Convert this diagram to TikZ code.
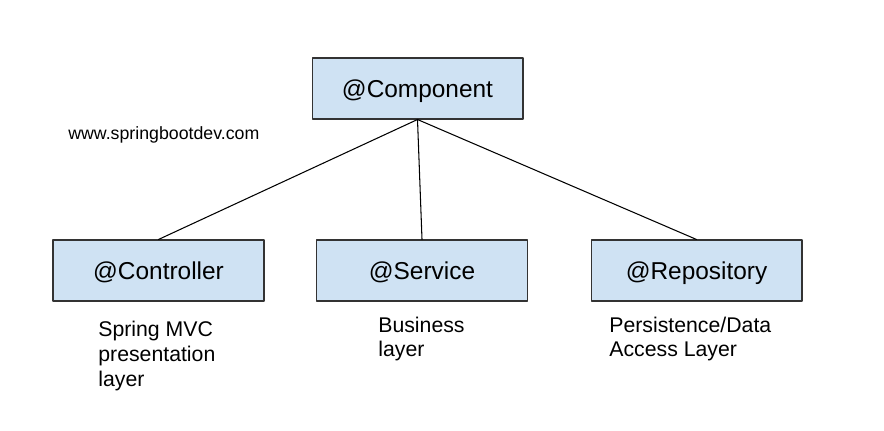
\documentclass[tikz,border=0pt]{standalone}
\usepackage{fontspec}
\setmainfont{Liberation Sans}
\definecolor{boxblue}{HTML}{CFE2F3}
\definecolor{edgegray}{HTML}{333333}
\tikzset{
  layer/.style={draw=edgegray, fill=boxblue, line width=0.6pt, minimum width=4.22cm,
    minimum height=1.22cm, inner sep=0pt, text depth=0pt, font=\fontsize{13.9}{16}\selectfont},
  note/.style={anchor=base west, inner sep=0pt, align=left, font=\fontsize{12.1}{14.2}\selectfont},
}
\begin{document}
\begin{tikzpicture}[x=0.02cm, y=-0.02cm, line join=round, line cap=round]
\useasboundingbox (0,0) rectangle (884,431);
\node[layer] (component) at (417.5,88.5) {@Component};
\node[layer] (controller) at (158.5,270.5) {@Controller};
\node[layer] (service) at (422,270.5) {@Service};
\node[layer] (repository) at (696.5,270.5) {@Repository};
\draw[line width=0.6pt] (component.south) -- (controller.north);
\draw[line width=0.6pt] (component.south) -- (service.north);
\draw[line width=0.6pt] (component.south) -- (repository.north);
% base of a multi-line note is its last line
\draw (68,140) node[note, font=\fontsize{10.1}{12}\selectfont] (site) {www.springbootdev.com};
\draw (98,386) node[note] (controllernote) {Spring MVC\\presentation\\layer};
\draw (378,357) node[note] (servicenote) {Business\\layer};
\draw (609,357) node[note] (repositorynote) {Persistence/Data\\Access Layer};
\end{tikzpicture}
\end{document}
